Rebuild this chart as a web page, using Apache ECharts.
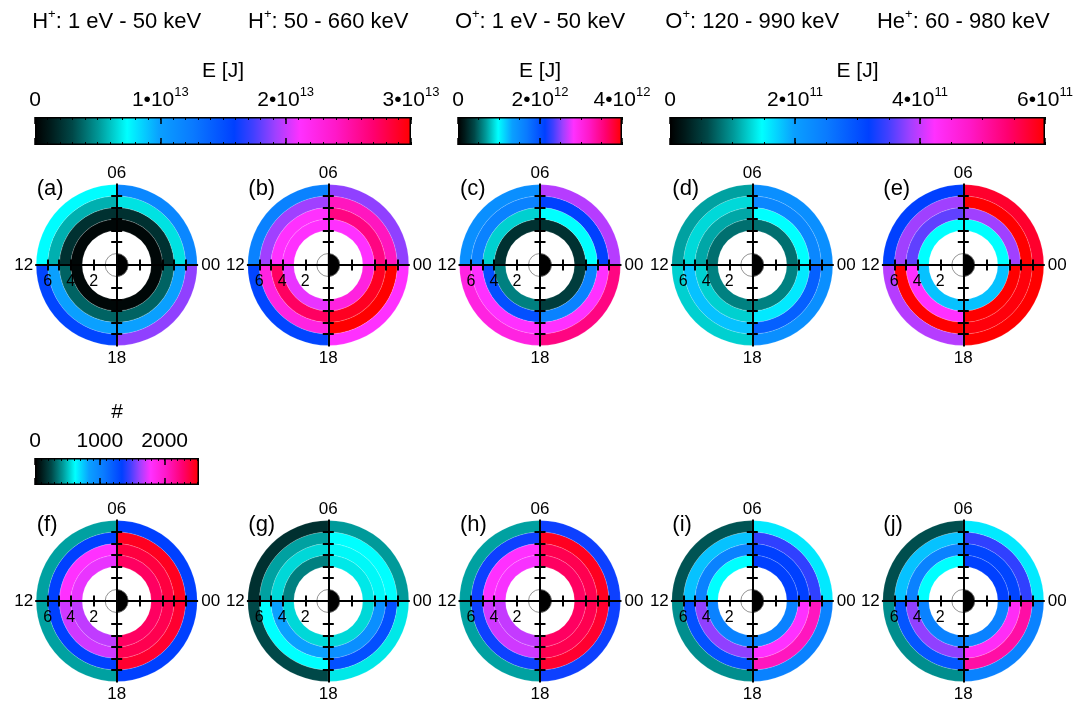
<!DOCTYPE html>
<html><head><meta charset="utf-8">
<script src="https://cdn.jsdelivr.net/npm/echarts@6/dist/echarts.min.js"></script>
<style>html,body{margin:0;padding:0;background:#fff}#chart{width:1092px;height:702px}</style>
</head><body><div id="chart"></div>
<script>
// ================= DATA =================
// MLT sectors [start, end] in hours (00 at right, 06 at top, counter-clockwise)
const sectorMLT = [[0, 6], [6, 12], [12, 18], [18, 24]];
// ring boundaries (L values)
const ringEdges = [3, 4, 5, 6, 7];
const earthRadius = 1;
const earthNight = [[18, 24], [0, 6]];
const earthDay = [[6, 18]];
const panelLetters = ['(a)', '(b)', '(c)', '(d)', '(e)', '(f)', '(g)', '(h)', '(i)', '(j)'];
const speciesTitles = [
  ['H', '+', ': 1 eV - 50 keV'],
  ['H', '+', ': 50 - 660 keV'],
  ['O', '+', ': 1 eV - 50 keV'],
  ['O', '+', ': 120 - 990 keV'],
  ['He', '+', ': 60 - 980 keV']
];
// axis tick values along the crosshair (L)
const lTicksHorizontal = [2, 4, 5, 6];
const lTicksVertical = [2, 3, 4, 5, 6];
const lTickLabels = [2, 4, 6];
const mltLabels = { right: '00', top: '06', left: '12', bottom: '18' };

// colour-bar tick labels
const ebarTicksH = [0, 1e13, 2e13, 3e13];
const ebarTicksOlow = [0, 2e12, 4e12];
const ebarTicksHigh = [0, 2e11, 4e11, 6e11];
const countTicks = [0, 1000, 2000];
const countMax = 2530;

// values: rows = rings L 3-4, 4-5, 5-6, 6-7 ; columns = MLT sectors 00-06, 06-12, 12-18, 18-00
// energies E [J]
const panelA = [
  [3.0e11, 3.0e11, 3.0e11, 3.0e11],
  [2.1e12, 2.1e12, 3.7e12, 3.7e12],
  [6.7e12, 5.6e12, 9.9e12, 9.9e12],
  [1.17e13, 7.4e12, 1.56e13, 1.89e13]
];
const panelB = [
  [2.12e13, 2.12e13, 2.07e13, 2.28e13],
  [2.64e13, 2.12e13, 2.74e13, 2.91e13],
  [2.43e13, 1.92e13, 2.27e13, 3.0e13],
  [1.89e13, 1.2e13, 1.56e13, 2.12e13]
];
const panelC = [
  [2.8e11, 2.8e11, 5.9e11, 3.4e11],
  [9.8e11, 8.4e11, 2.0e12, 1.6e12],
  [2.12e12, 1.6e12, 2.82e12, 2.82e12],
  [2.62e12, 1.48e12, 3.03e12, 3.52e12]
];
const panelD = [
  [8.0e10, 8.0e10, 8.9e10, 8.9e10],
  [1.47e11, 1.08e11, 1.26e11, 1.59e11],
  [2.34e11, 1.3e11, 1.8e11, 2.82e11],
  [2.22e11, 1.05e11, 1.26e11, 2.22e11]
];
const panelE = [
  [1.47e11, 1.47e11, 1.8e11, 1.8e11],
  [3.84e11, 3.6e11, 4.23e11, 6.0e11],
  [6.0e11, 3.84e11, 6.0e11, 5.94e11],
  [5.76e11, 3.18e11, 3.93e11, 6.0e11]
];
// counts #
const panelF = [
  [2312, 1746, 1675, 2312],
  [2386, 1784, 1700, 2350],
  [2457, 1341, 1341, 2421],
  [1341, 443, 443, 1341]
];
const panelG = [
  [577, 374, 546, 546],
  [607, 546, 835, 936],
  [620, 443, 620, 1265],
  [430, 175, 253, 577]
];
const panelH = [
  [2312, 1771, 1682, 2312],
  [2350, 1784, 1700, 2350],
  [2457, 1366, 1366, 2421],
  [1366, 443, 443, 1366]
];
const panelI = [
  [1341, 620, 1012, 1012],
  [1341, 1012, 1594, 1784],
  [1436, 759, 1265, 2049],
  [670, 278, 405, 1012]
];
const panelJ = [
  [1341, 620, 1012, 1012],
  [1316, 1012, 1594, 1822],
  [1436, 759, 1240, 2125],
  [670, 266, 405, 1012]
];

// ================= STYLE / LAYOUT =================
const FONT = 'Liberation Sans, Arial, sans-serif';
const cmapStops = [
  [0.00, '#000000'], [0.04, '#001a1a'], [0.10, '#004848'], [0.17, '#009a9a'],
  [0.245, '#00ffff'], [0.33, '#0aa0ff'], [0.42, '#0a7aff'], [0.53, '#0040ff'],
  [0.58, '#4040ff'], [0.64, '#a040ff'], [0.705, '#ff30ff'], [0.80, '#ff18c8'],
  [0.90, '#ff0070'], [1.00, '#ff0000']
];
function hexRgb(h) { return [1, 3, 5].map(i => parseInt(h.substr(i, 2), 16)); }
function cmap(t) {
  t = Math.max(0, Math.min(1, t));
  for (let i = 1; i < cmapStops.length; i++) {
    const [o1, c1] = cmapStops[i - 1], [o2, c2] = cmapStops[i];
    if (t <= o2) {
      const f = (t - o1) / (o2 - o1);
      const a = hexRgb(c1), b = hexRgb(c2);
      return 'rgb(' + a.map((v, k) => Math.round(v + (b[k] - v) * f)).join(',') + ')';
    }
  }
  return cmapStops[cmapStops.length - 1][1];
}
const gradient = {
  type: 'linear', x: 0, y: 0, x2: 1, y2: 0,
  colorStops: cmapStops.map(([o, c]) => ({ offset: o, color: c }))
};

const UNIT = 11.5;                         // px per L unit
const LMAX = ringEdges[ringEdges.length - 1];
const R = LMAX * UNIT;
const colX = [116.7, 328.3, 540, 752.3, 963.3];
const rowY = [265, 601];

const panels = [
  { d: panelA, max: ebarTicksH[ebarTicksH.length - 1] },
  { d: panelB, max: ebarTicksH[ebarTicksH.length - 1] },
  { d: panelC, max: ebarTicksOlow[ebarTicksOlow.length - 1] },
  { d: panelD, max: ebarTicksHigh[ebarTicksHigh.length - 1] },
  { d: panelE, max: ebarTicksHigh[ebarTicksHigh.length - 1] },
  { d: panelF, max: countMax },
  { d: panelG, max: countMax },
  { d: panelH, max: countMax },
  { d: panelI, max: countMax },
  { d: panelJ, max: countMax }
];

const grids = [], xAxes = [], yAxes = [], polars = [], angleAxes = [], radiusAxes = [], series = [], graphics = [];

// sector renderer: item = [L0, L1, mlt0, mlt1, value]
function sectorGeom(params, api) {
  const cs = params.coordSys;
  const pIn = api.coord([api.value(0), api.value(2)]);
  const pA = api.coord([api.value(1), api.value(2)]);
  const pB = api.coord([api.value(1), api.value(3)]);
  const r0 = Math.hypot(pIn[0] - cs.cx, pIn[1] - cs.cy);
  const r = Math.hypot(pA[0] - cs.cx, pA[1] - cs.cy);
  const s = Math.atan2(pA[1] - cs.cy, pA[0] - cs.cx);
  let e = Math.atan2(pB[1] - cs.cy, pB[0] - cs.cx);
  while (e >= s - 1e-9) e -= 2 * Math.PI;
  return { cx: cs.cx, cy: cs.cy, r0: r0, r: r, startAngle: s, endAngle: e, clockwise: false };
}

// ---------- polar ring panels ----------
panels.forEach((p, i) => {
  const cx = colX[i % 5], cy = rowY[Math.floor(i / 5)];
  const pi = polars.length;
  polars.push({ center: [cx, cy], radius: [0, R] });
  angleAxes.push({ polarIndex: pi, type: 'value', min: 0, max: 24, startAngle: 0, clockwise: false, show: false });
  radiusAxes.push({ polarIndex: pi, type: 'value', min: 0, max: LMAX, show: false });

  const ringData = [];
  for (let k = 0; k < ringEdges.length - 1; k++) {
    sectorMLT.forEach((m, j) => ringData.push([ringEdges[k], ringEdges[k + 1], m[0], m[1], p.d[k][j]]));
  }
  series.push({
    type: 'custom', coordinateSystem: 'polar', polarIndex: pi, silent: true, z: 2,
    encode: { radius: [0, 1], angle: [2, 3] },
    data: ringData,
    renderItem: function (params, api) {
      return {
        type: 'sector', shape: sectorGeom(params, api),
        style: { fill: cmap(api.value(4) / p.max), stroke: 'rgba(255,255,255,0.3)', lineWidth: 0.5 }
      };
    }
  });
  // Earth
  const earthData = earthDay.map(m => [0, earthRadius, m[0], m[1], 0])
    .concat(earthNight.map(m => [0, earthRadius, m[0], m[1], 1]));
  series.push({
    type: 'custom', coordinateSystem: 'polar', polarIndex: pi, silent: true, z: 3,
    encode: { radius: [0, 1], angle: [2, 3] },
    data: earthData,
    renderItem: function (params, api) {
      return {
        type: 'sector', shape: sectorGeom(params, api),
        style: { fill: api.value(4) ? '#000' : '#fff', stroke: '#777', lineWidth: 0.8 }
      };
    }
  });

  // crosshair axes
  const gi = grids.length;
  grids.push({ left: cx - R, top: cy - R, width: 2 * R, height: 2 * R, outerBoundsMode: 'none' });
  const nameStyle = { fontSize: 17, color: '#000', fontFamily: FONT };
  const ax = {
    type: 'value', gridIndex: gi, min: -LMAX, max: LMAX, offset: -R, z: 10,
    splitLine: { show: false },
    axisLine: { show: true, onZero: false, lineStyle: { color: '#000', width: 2 } }
  };
  const hT = lTicksHorizontal.map(v => -v).concat(lTicksHorizontal);
  const vT = lTicksVertical.map(v => -v).concat(lTicksVertical);
  const tick = vals => ({ show: true, length: 5.5, customValues: vals, lineStyle: { color: '#000', width: 2 } });
  xAxes.push(Object.assign({}, ax, {
    position: 'bottom', axisTick: tick(hT),
    axisLabel: { show: true, customValues: lTickLabels.map(v => -v), formatter: v => String(Math.abs(v)), margin: 9, fontSize: 16, color: '#000', fontFamily: FONT },
    name: mltLabels.right, nameLocation: 'end', nameGap: 4, nameTextStyle: Object.assign({ padding: [0, 0, 9, 0] }, nameStyle)
  }));
  xAxes.push(Object.assign({}, ax, {
    position: 'top', axisTick: tick(hT), axisLabel: { show: false },
    name: mltLabels.left, nameLocation: 'start', nameGap: 3, nameTextStyle: Object.assign({ padding: [0, 0, 9, 0] }, nameStyle)
  }));
  yAxes.push(Object.assign({}, ax, {
    position: 'left', axisTick: tick(vT), axisLabel: { show: false },
    name: mltLabels.top, nameLocation: 'end', nameGap: 3, nameTextStyle: nameStyle
  }));
  yAxes.push(Object.assign({}, ax, {
    position: 'right', axisTick: tick(vT), axisLabel: { show: false },
    name: mltLabels.bottom, nameLocation: 'start', nameGap: 4, nameTextStyle: nameStyle
  }));

  graphics.push({ type: 'text', x: cx - 80, y: cy - 76, z: 20, style: { text: panelLetters[i], fontSize: 22, fontFamily: FONT, fill: '#000', align: 'left', verticalAlign: 'middle' } });
});

// ---------- colour bars ----------
const labelRich = {
  m: { fontSize: 21, lineHeight: 28, color: '#000', fontFamily: FONT },
  s: { fontSize: 13, lineHeight: 13, verticalAlign: 'top', color: '#000', fontFamily: FONT }
};
function sciLabel(v) {
  if (v === 0) return '{m|0}';
  const e = Math.floor(Math.log10(v) + 1e-9);
  const m = Math.round(v / Math.pow(10, e));
  return '{m|' + m + '•10}{s|' + e + '}';
}
function plainLabel(v) { return '{m|' + v + '}'; }

function addColorbar(box, ticks, max, minorStep, fmt, title) {
  const gi = grids.length;
  grids.push({ left: box[0], top: box[1], width: box[2], height: box[3], outerBoundsMode: 'none' });
  const minor = [];
  for (let v = 0; v <= max * (1 + 1e-9); v += minorStep) minor.push(v);
  const base = { type: 'value', gridIndex: gi, min: 0, max: max, axisLine: { show: false }, splitLine: { show: false }, z: 5 };
  const xi = xAxes.length;
  const mj = { show: true, inside: true, length: 7, customValues: ticks, lineStyle: { color: '#000', width: 1.5 } };
  const mn = { show: true, inside: true, length: 3, customValues: minor, lineStyle: { color: '#000', width: 1 } };
  xAxes.push(Object.assign({}, base, { position: 'top', axisTick: mj, axisLabel: { show: true, customValues: ticks, formatter: fmt, margin: 3, rich: labelRich } }));
  xAxes.push(Object.assign({}, base, { position: 'top', axisTick: mn, axisLabel: { show: false } }));
  xAxes.push(Object.assign({}, base, { position: 'bottom', axisTick: mj, axisLabel: { show: false } }));
  xAxes.push(Object.assign({}, base, { position: 'bottom', axisTick: mn, axisLabel: { show: false } }));
  const yi = yAxes.length;
  yAxes.push({ type: 'category', gridIndex: gi, data: ['bar'], show: false });
  series.push({
    type: 'bar', xAxisIndex: xi, yAxisIndex: yi, data: [max], barWidth: '100%', silent: true, z: 2,
    itemStyle: { color: gradient, borderColor: '#000', borderWidth: 1.5 }
  });
  graphics.push({ type: 'text', x: box[0] + box[2] / 2, y: box[1] - 46, style: { text: title, fontSize: 21, fontFamily: FONT, fill: '#000', align: 'center', verticalAlign: 'middle' } });
}
addColorbar([35, 117, 376, 28], ebarTicksH, ebarTicksH[ebarTicksH.length - 1], 1e12, sciLabel, 'E [J]');
addColorbar([458, 117, 164, 28], ebarTicksOlow, ebarTicksOlow[ebarTicksOlow.length - 1], 5e11, sciLabel, 'E [J]');
addColorbar([670, 117, 375, 28], ebarTicksHigh, ebarTicksHigh[ebarTicksHigh.length - 1], 5e10, sciLabel, 'E [J]');
addColorbar([35, 458, 164, 27], countTicks, countMax, 100, plainLabel, '#');

// ---------- species titles ----------
speciesTitles.forEach((t, i) => {
  graphics.push({
    type: 'text', x: colX[i], y: 22,
    style: {
      text: '{m|' + t[0] + '}{s|' + t[1] + '}{m|' + t[2] + '}',
      align: 'center', verticalAlign: 'middle', fill: '#000', fontFamily: FONT, fontSize: 22,
      rich: {
        m: { fontSize: 22, lineHeight: 28, fill: '#000', fontFamily: FONT },
        s: { fontSize: 13, lineHeight: 13, verticalAlign: 'top', fill: '#000', fontFamily: FONT }
      }
    }
  });
});

const chart = echarts.init(document.getElementById('chart'), null, { renderer: 'canvas' });
chart.setOption({
  animation: false,
  backgroundColor: '#fff',
  textStyle: { fontFamily: FONT },
  grid: grids, xAxis: xAxes, yAxis: yAxes,
  polar: polars, angleAxis: angleAxes, radiusAxis: radiusAxes,
  series: series,
  graphic: graphics
});
</script>
</body></html>
